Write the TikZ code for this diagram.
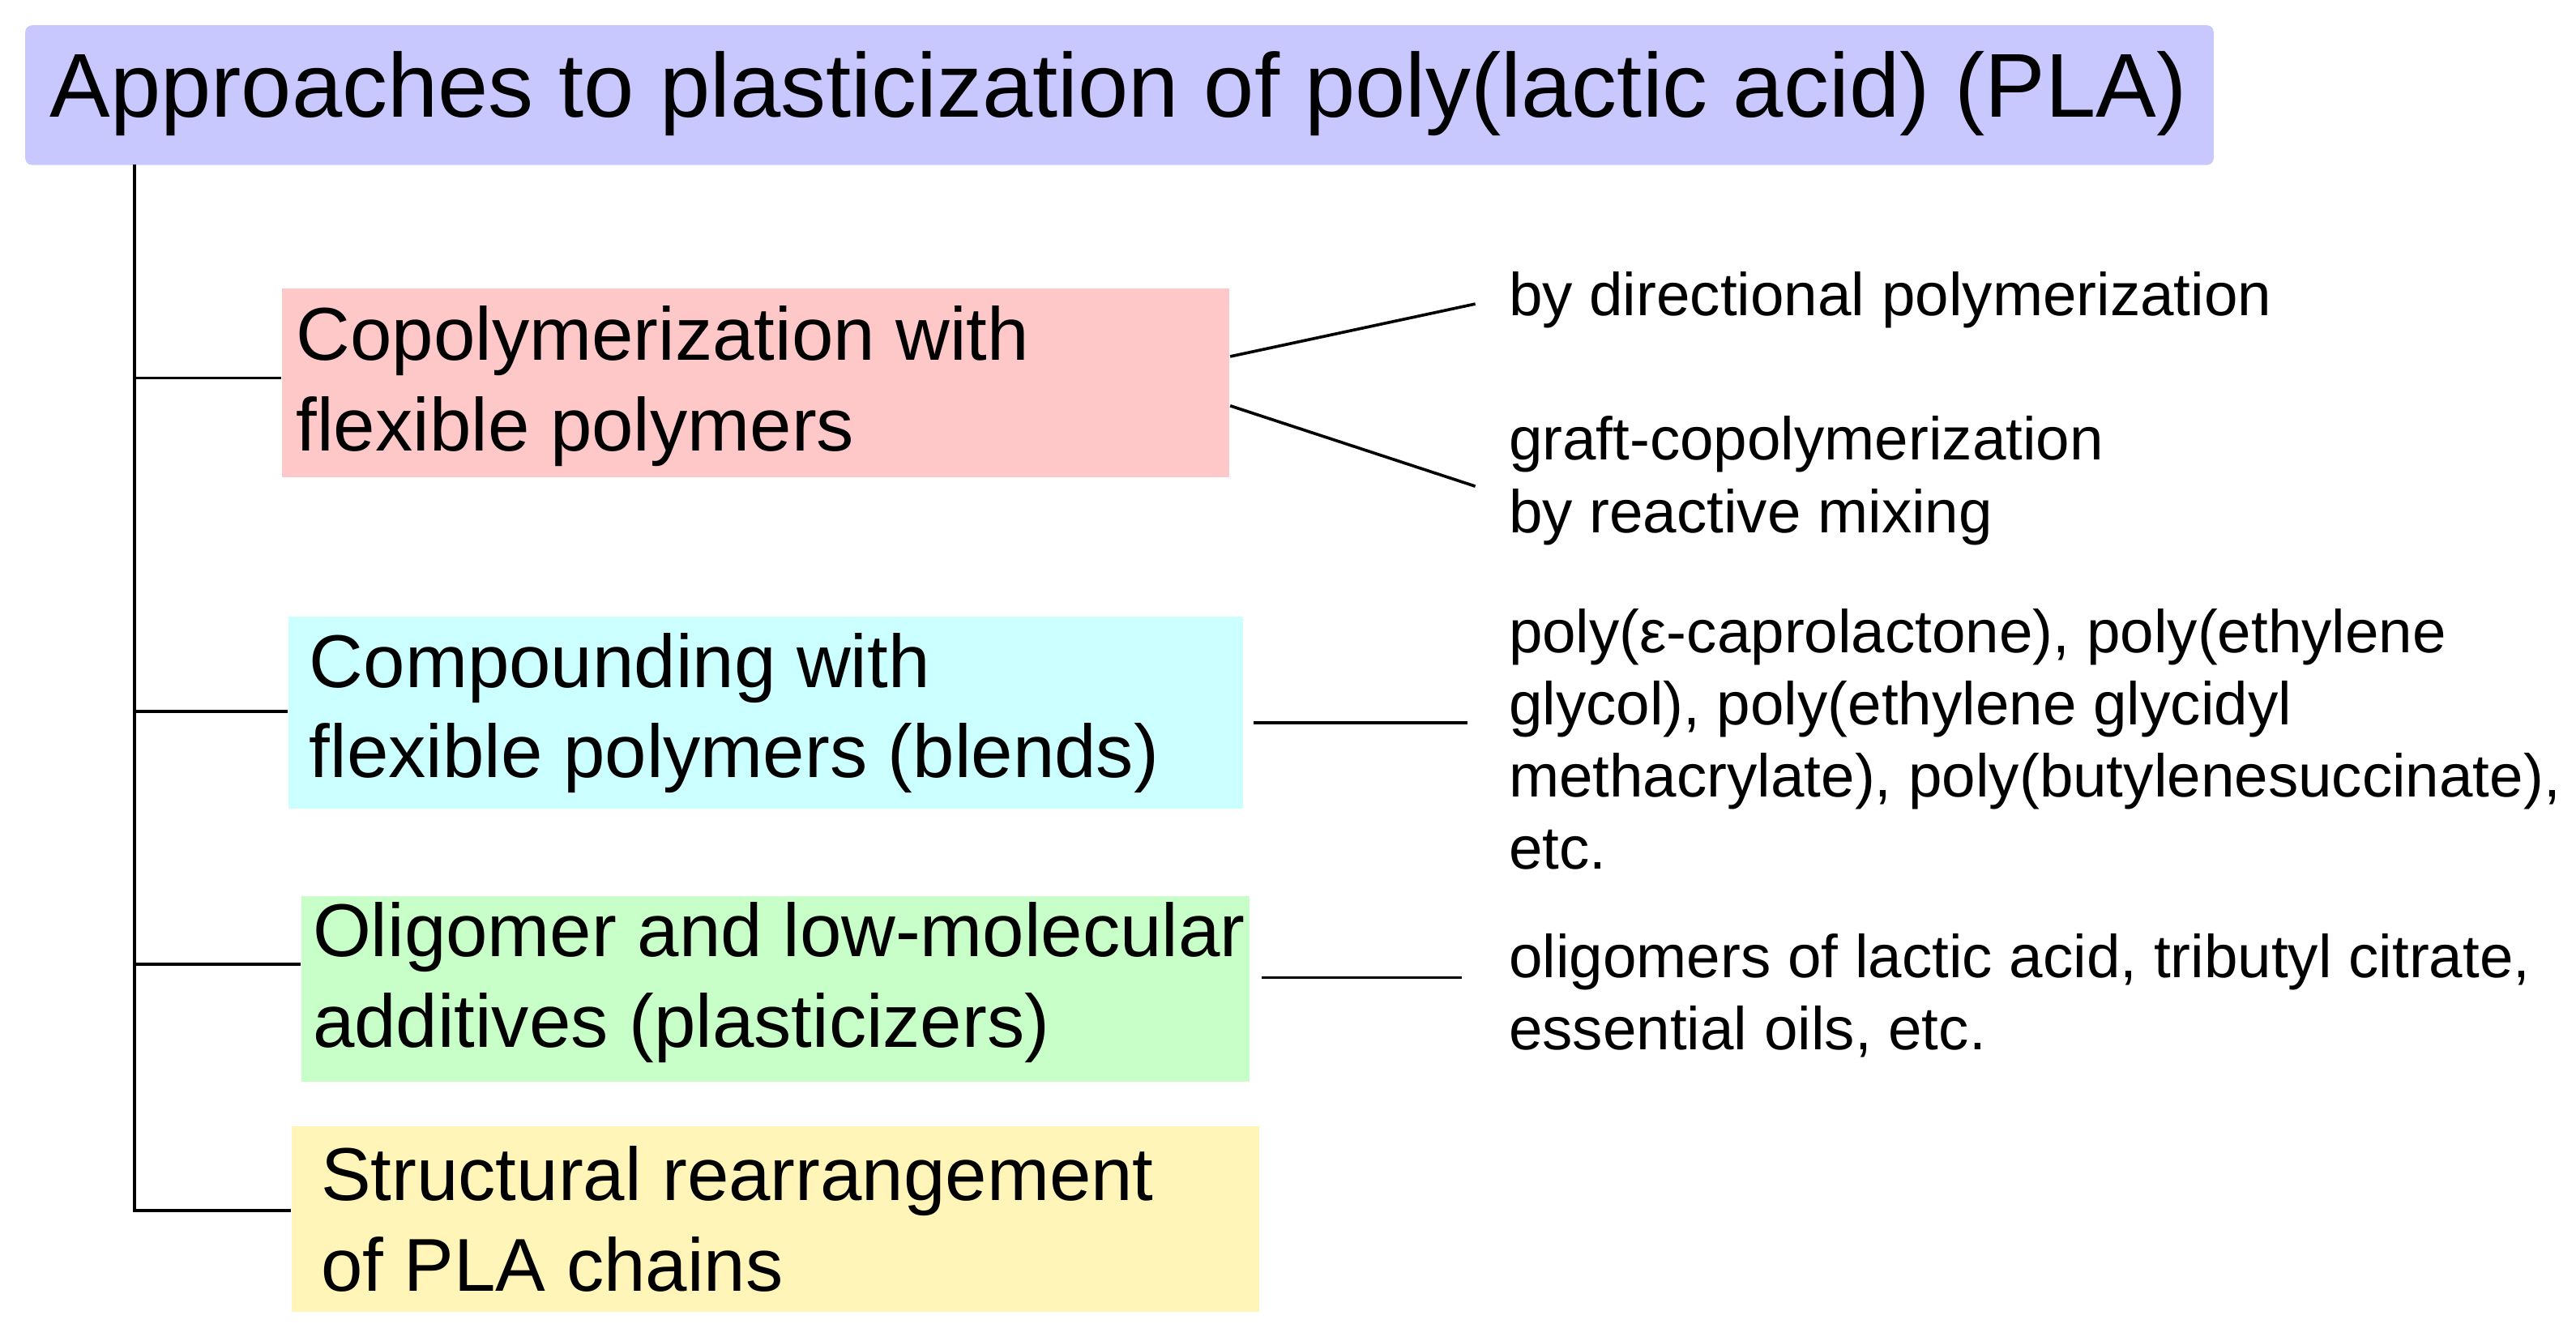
\documentclass[tikz,border=0pt]{standalone}
\usepackage{fontspec}
\setmainfont{Liberation Sans}
\begin{document}
\begin{tikzpicture}[x=0.5pt,y=-0.5pt,
  box/.style={anchor=north west,inner sep=0pt},
  btxt/.style={anchor=west,inner sep=0pt,align=left,font=\fontsize{22.8}{27.5}\selectfont},
  side/.style={anchor=north west,inner sep=0pt,align=left,font=\fontsize{18.4}{22}\selectfont},
  ln/.style={line width=0.9pt}]
\useasboundingbox (0,0) rectangle (1568,816);
\definecolor{cT}{HTML}{C8C8FF}\definecolor{cP}{HTML}{FFC8C8}
\definecolor{cC}{HTML}{CCFFFF}\definecolor{cG}{HTML}{C8FFC8}\definecolor{cY}{HTML}{FFF5B8}
\node[fill=cT,box,minimum width=666pt,minimum height=42.5pt,rounded corners=2pt] (title) at (15,15) {};
\node[anchor=west,inner sep=0pt,font=\fontsize{27.6}{30}\selectfont] (tt) at (30,57) {Approaches to plasticization of poly(lactic acid) (PLA)};
\node[box,fill=cP,minimum width=288.5pt,minimum height=57.5pt] (b1) at (171,175) {};
\node[box,fill=cC,minimum width=290.5pt,minimum height=58.5pt] (b2) at (175,375) {};
\node[box,fill=cG,minimum width=288.5pt,minimum height=56.5pt] (b3) at (183,545) {};
\node[box,fill=cY,minimum width=294.5pt,minimum height=56.5pt] (b4) at (177,685) {};
\node[btxt] (t1) at (180,235) {Copolymerization with\\flexible polymers};
\node[btxt] (t2) at (188,434) {Compounding with\\flexible polymers (blends)};
\node[btxt] (t3) at (190,598) {Oligomer and low-molecular\\additives (plasticizers)};
\node[btxt] (t4) at (195,742) {Structural rearrangement\\of PLA chains};
\coordinate (top) at (82,100);
\coordinate (bot) at (82,737);
\draw[ln] (top) -- (bot) -- (b4.west |- bot);
\draw[ln] (top |- 0,230) -- (b1.west |- 0,230);
\draw[ln] (top |- 0,433) -- (b2.west |- 0,433);
\draw[ln] (top |- 0,587) -- (b3.west |- 0,587);
\node[side] (r1) at (918,165) {by directional polymerization};
\node[side] (r2) at (918,253) {graft-copolymerization\\by reactive mixing};
\node[side] (r3) at (918,370) {poly(ε-caprolactone), poly(ethylene\\glycol), poly(ethylene glycidyl\\methacrylate), poly(butylenesuccinate),\\etc.};
\node[side] (r4) at (918,568) {oligomers of lactic acid, tributyl citrate,\\essential oils, etc.};
\coordinate (e1) at (898,185); \coordinate (e2) at (898,296);
\coordinate (e3) at (893,440); \coordinate (e4) at (890,595);
\draw[ln] (b1.east |- 0,217) -- (e1);
\draw[ln] (b1.east |- 0,247) -- (e2);
\draw[ln] (763,440) -- (e3);
\draw[ln] (768,595) -- (e4);
\end{tikzpicture}
\end{document}
